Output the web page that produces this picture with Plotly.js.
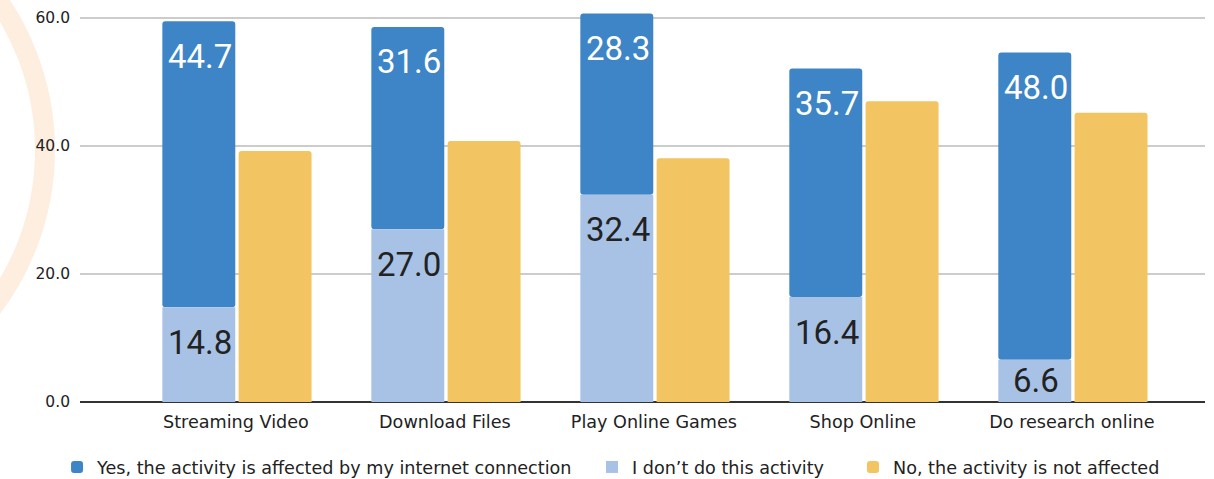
<!DOCTYPE html>
<html>
<head>
<meta charset="utf-8">
<script src="https://cdn.plot.ly/plotly-3.0.1.min.js"></script>
<style>html,body{margin:0;padding:0;background:#fff;}#chart{width:1214px;height:479px;}</style>
</head>
<body>
<div id="chart"></div>
<script>
const categories = ["Streaming Video", "Download Files", "Play Online Games", "Shop Online", "Do research online"];
const dontDo = [14.8, 27.0, 32.4, 16.4, 6.6];
const yesAffected = [44.7, 31.6, 28.3, 35.7, 48.0];
const notAffected = [39.2, 40.8, 38.1, 47.0, 45.2];
const seriesNames = ["Yes, the activity is affected by my internet connection", "I don\u2019t do this activity", "No, the activity is not affected"];
const yTicks = [0, 20, 40, 60];

const cDark = "#3d85c6", cLight = "#a8c2e6", cYellow = "#f2c462";
const W = 0.349;

const traces = [
  {type: "bar", name: seriesNames[0], x: categories, y: yesAffected, base: dontDo,
   width: W, offset: -0.352, marker: {color: cDark, line: {width: 0}, cornerradius: 3},
   hoverinfo: "skip", legend: "legend"},
  {type: "bar", name: seriesNames[1], x: categories, y: dontDo,
   width: W, offset: -0.352, marker: {color: cLight, line: {width: 0}},
   hoverinfo: "skip", legend: "legend2"},
  {type: "bar", name: seriesNames[2], x: categories, y: notAffected,
   width: W, offset: 0.013, marker: {color: cYellow, line: {width: 0}, cornerradius: 3},
   hoverinfo: "skip", legend: "legend3"}
];

const annotations = [];
function addLabels(vals, bases, color) {
  vals.forEach((v, i) => {
    const b = bases ? bases[i] : 0;
    const small = v < 10;
    annotations.push({
      x: categories[i], y: small ? b + v / 2 : b + v, xref: "x", yref: "y",
      text: v.toFixed(1), showarrow: false, xshift: -36,
      yshift: small ? 0 : -35, yanchor: "middle", xanchor: "center",
      font: {family: "Roboto", size: 33, color: color}
    });
  });
}
addLabels(yesAffected, dontDo, "#ffffff");
addLabels(dontDo, null, "#222222");

function legendAt(x) {
  return {orientation: "h", xref: "paper", yref: "paper", x: x, y: -0.1625, yanchor: "middle", xanchor: "left",
          font: {family: "DejaVu Sans", size: 17.6, color: "#222"}, itemclick: false, bgcolor: "rgba(0,0,0,0)"};
}

const layout = {
  width: 1214, height: 479,
  margin: {l: 80, r: 9, t: 2, b: 77, autoexpand: false},
  paper_bgcolor: "#ffffff", plot_bgcolor: "rgba(0,0,0,0)",
  barmode: "overlay",
  showlegend: true,
  legend: legendAt(-0.0204),
  legend2: legendAt(0.4551),
  legend3: legendAt(0.6871),
  xaxis: {type: "category", range: [-0.746, 4.637], showgrid: false, zeroline: false, showline: false,
          ticks: "", tickangle: 0, ticklabelstandoff: 7,
          tickfont: {family: "DejaVu Sans", size: 17.6, color: "#222"}, fixedrange: true},
  yaxis: {range: [0, 62.5], tickvals: yTicks, tickformat: ".1f", showgrid: true, gridcolor: "#cccccc", gridwidth: 1.5,
          zeroline: true, zerolinecolor: "#333333", zerolinewidth: 1.5, showline: false, ticks: "",
          ticklabelstandoff: 9,
          tickfont: {family: "DejaVu Sans", size: 15.5, color: "#222"}, fixedrange: true},
  annotations: annotations,
  shapes: [{type: "circle", xref: "paper", yref: "paper", x0: -0.4969, x1: -0.0311, y0: -0.025, y1: 1.285,
            line: {color: "rgba(245,170,100,0.2)", width: 20}, layer: "below"}]
};

Plotly.newPlot("chart", traces, layout, {displayModeBar: false, staticPlot: true});
</script>
</body>
</html>
